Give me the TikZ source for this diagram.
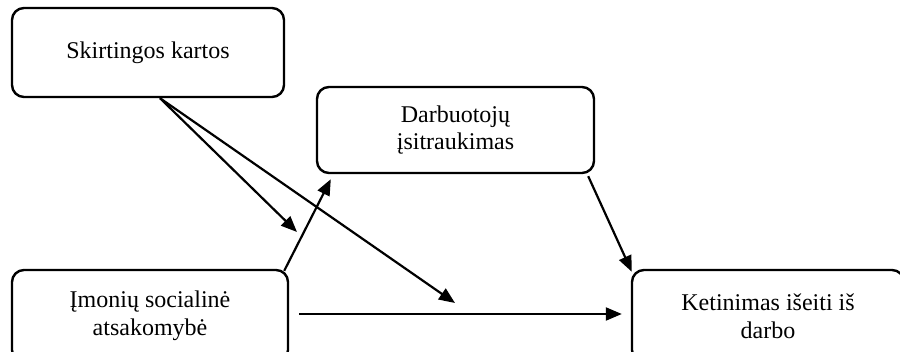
\documentclass[tikz,border=0pt]{standalone}
\usepackage{fontspec}
\setmainfont{Liberation Serif}
\usetikzlibrary{arrows.meta, calc, positioning}
\tikzset{
  varbox/.style={draw, line width=1.2pt, rounded corners=6pt, align=center, inner sep=0pt,
    font=\fontsize{12}{13.8}\selectfont},
  link/.style={-{Triangle[length=8pt,width=6.5pt]}, line width=1.1pt}
}
\begin{document}
\begin{tikzpicture}[x=0.5pt,y=-0.5pt]
\useasboundingbox (0,0) rectangle (900,352);
\node[varbox, minimum width=136pt, minimum height=44.5pt] (kartos) at (148,52.5) {Skirtingos kartos};
\node[varbox, minimum width=138.5pt, minimum height=43pt] (isitr) at (455.5,130) {Darbuotojų\\įsitraukimas};
\node[varbox, minimum width=138pt, minimum height=46pt] (isa) at (150,316) {Įmonių socialinė\\atsakomybė};
\node[varbox, minimum width=136pt, minimum height=46pt] (ketin) at (768,316) {Ketinimas išeiti iš\\darbo};
% moderation targets
\coordinate (mod1) at (297,232);
\coordinate (mod2) at (455,303);
\draw[link] ([xshift=6pt]kartos.south) -- (mod1);
\draw[link] ([xshift=6pt]kartos.south) -- (mod2);
\draw[link] ([shift={(-2.5pt,-1pt)}]isa.north east) -- ([shift={(7.5pt,-2.5pt)}]isitr.south west);
\draw[link] ([shift={(5pt,1pt)}]isa.east) -- ([shift={(-4.5pt,1pt)}]ketin.west);
\draw[link] ([shift={(-3.5pt,-1pt)}]isitr.south east) -- ([shift={(0.5pt,-1.5pt)}]ketin.north west);
\end{tikzpicture}
\end{document}
